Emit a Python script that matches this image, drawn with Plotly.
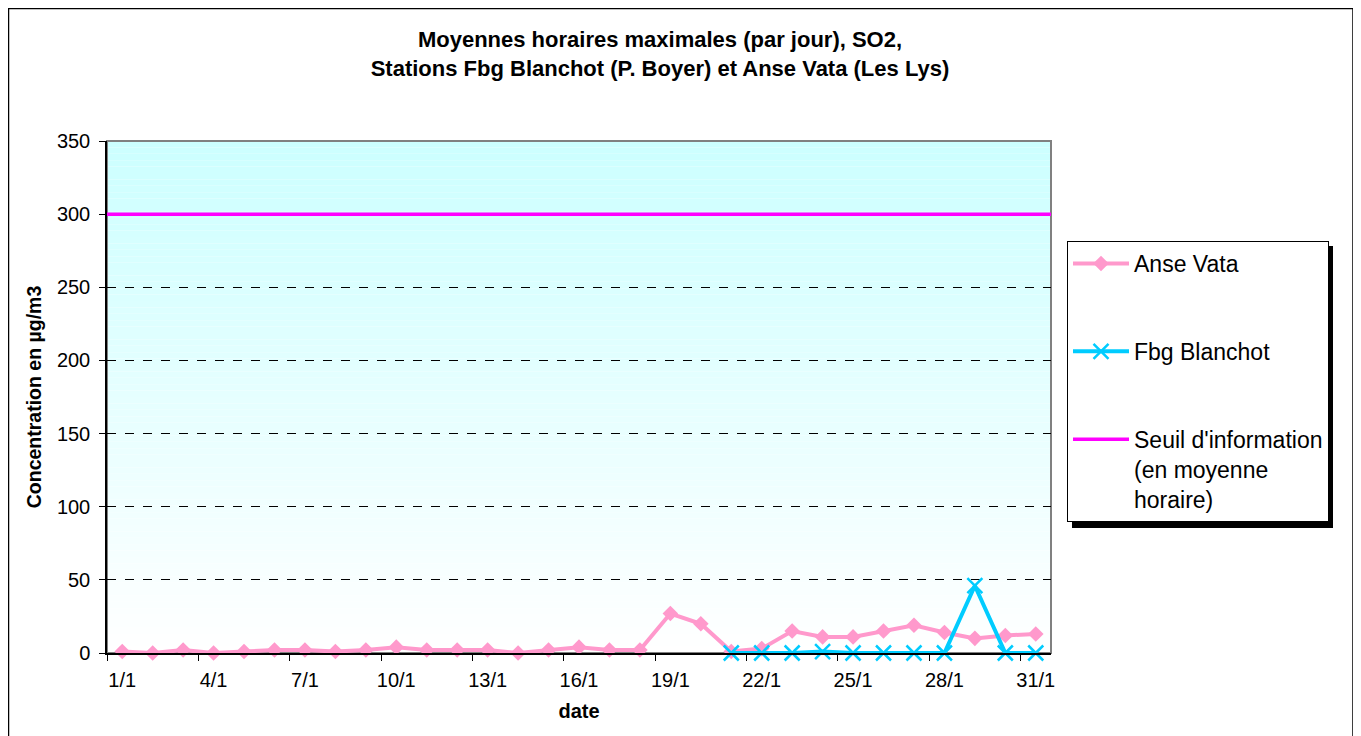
import plotly.graph_objects as go

dates = [f"{d}/1" for d in range(1, 32)]
anse_vata = [1, 0, 2, 0, 1, 2, 2, 1, 2, 4, 2, 2, 2, 0, 2, 4, 2, 2, 27, 20,
             1, 3, 15, 11, 11, 15, 19, 14, 10, 12, 13]
fbg_blanchot = [None] * 20 + [0, 0, 0, 1, 0, 0, 0, 0, 46, 0, 0]
seuil = 300
y_ticks = [0, 50, 100, 150, 200, 250, 300, 350]

FONT = "Liberation Sans, Arial, sans-serif"

# plot area geometry in figure pixels (page is offset by 8px body margin)
W, H = 1361, 736
L, R, T, B = 99, 1043, 133, 645
pw, ph = R - L, B - T


def px_x(p):
    return (p - L) / pw


def px_y(p):
    return (B - p) / ph


fig = go.Figure()

fig.add_trace(go.Scatter(
    x=dates, y=anse_vata, name="Anse Vata", mode="lines+markers",
    line=dict(color="#ff99cc", width=4),
    marker=dict(symbol="diamond", size=12, color="#ff99cc"),
    legendgroup="a", cliponaxis=False,
))
fig.add_trace(go.Scatter(
    x=dates, y=fbg_blanchot, name="Fbg Blanchot", mode="lines+markers",
    line=dict(color="#00ccff", width=4),
    marker=dict(symbol="x-thin", size=15, color="#00ccff",
                line=dict(color="#00ccff", width=2.5)),
    legendgroup="b", cliponaxis=False,
))
fig.add_trace(go.Scatter(
    x=[0, 1], y=[seuil, seuil], xaxis="x2",
    name="Seuil d'information<br>(en moyenne<br>horaire)", mode="lines",
    line=dict(color="#ff00ff", width=3.5),
    legendgroup="c",
))

shapes = []
# gradient background of plot area
n = 80
for i in range(n):
    t = i / (n - 1)
    g = int(round(0xcc + (0xff - 0xcc) * t))
    shapes.append(dict(
        type="rect", xref="x domain", yref="y domain",
        x0=0, x1=1, y0=1 - (i + 1) / n, y1=1 - i / n,
        fillcolor=f"rgb({g},255,255)", line=dict(width=0), layer="below",
    ))
# grey plot border
shapes.append(dict(type="rect", xref="x domain", yref="y domain",
                   x0=0, x1=1, y0=0, y1=1,
                   line=dict(color="#808080", width=2), layer="below"))
# outer chart border
shapes.append(dict(type="rect", xref="paper", yref="paper",
                   x0=px_x(0.5), x1=px_x(1345), y0=px_y(760), y1=px_y(0.5),
                   line=dict(color="black", width=1.5), fillcolor="rgba(0,0,0,0)"))
# legend shadow
shapes.append(dict(type="rect", xref="paper", yref="paper",
                   x0=px_x(1064), x1=px_x(1325), y0=px_y(520), y1=px_y(238),
                   line=dict(width=0), fillcolor="black"))

fig.update_layout(
    width=W, height=H,
    margin=dict(l=L, r=W - R, t=T, b=H - B, pad=0, autoexpand=False),
    paper_bgcolor="white",
    plot_bgcolor="rgba(0,0,0,0)",
    font=dict(family=FONT, size=20, color="black"),
    title=dict(
        text="<b>Moyennes horaires maximales (par jour), SO2,<br>"
             "Stations Fbg Blanchot (P. Boyer) et Anse Vata (Les Lys)</b>",
        x=652 / W, xref="container", xanchor="center",
        y=1 - 39 / H, yref="container", yanchor="top",
        font=dict(family=FONT, size=22),
    ),
    xaxis=dict(
        type="category", tickmode="linear", tick0=0, dtick=3,
        tickson="boundaries", ticks="outside", ticklen=6, tickcolor="black",
        showline=True, linecolor="black", linewidth=1.5,
        showgrid=False, zeroline=False, tickangle=0,
        range=[-0.5, 30.5], ticklabelstandoff=8,
        title=dict(text="<b>date</b>", font=dict(family=FONT, size=20), standoff=14),
        tickfont=dict(family=FONT, size=20),
    ),
    xaxis2=dict(overlaying="x", range=[0, 1], visible=False, showgrid=False),
    yaxis=dict(
        range=[0, 350], tickvals=y_ticks, ticks="outside", ticklen=6,
        tickcolor="black", showline=True, linecolor="black", linewidth=1.5,
        showgrid=True, gridcolor="black", griddash="dash", gridwidth=1,
        zeroline=False, ticklabelstandoff=5,
        title=dict(text="<b>Concentration en µg/m3</b>",
                   font=dict(family=FONT, size=19.5), standoff=10),
        tickfont=dict(family=FONT, size=20),
    ),
    legend=dict(
        x=px_x(1059), y=px_y(233), xanchor="left", yanchor="top",
        xref="paper", yref="paper",
        bgcolor="white", bordercolor="black", borderwidth=1,
        font=dict(family=FONT, size=23),
        tracegroupgap=55, itemwidth=56, valign="top",
        traceorder="grouped",
    ),
    shapes=shapes,
)

fig.write_html("out.html")
